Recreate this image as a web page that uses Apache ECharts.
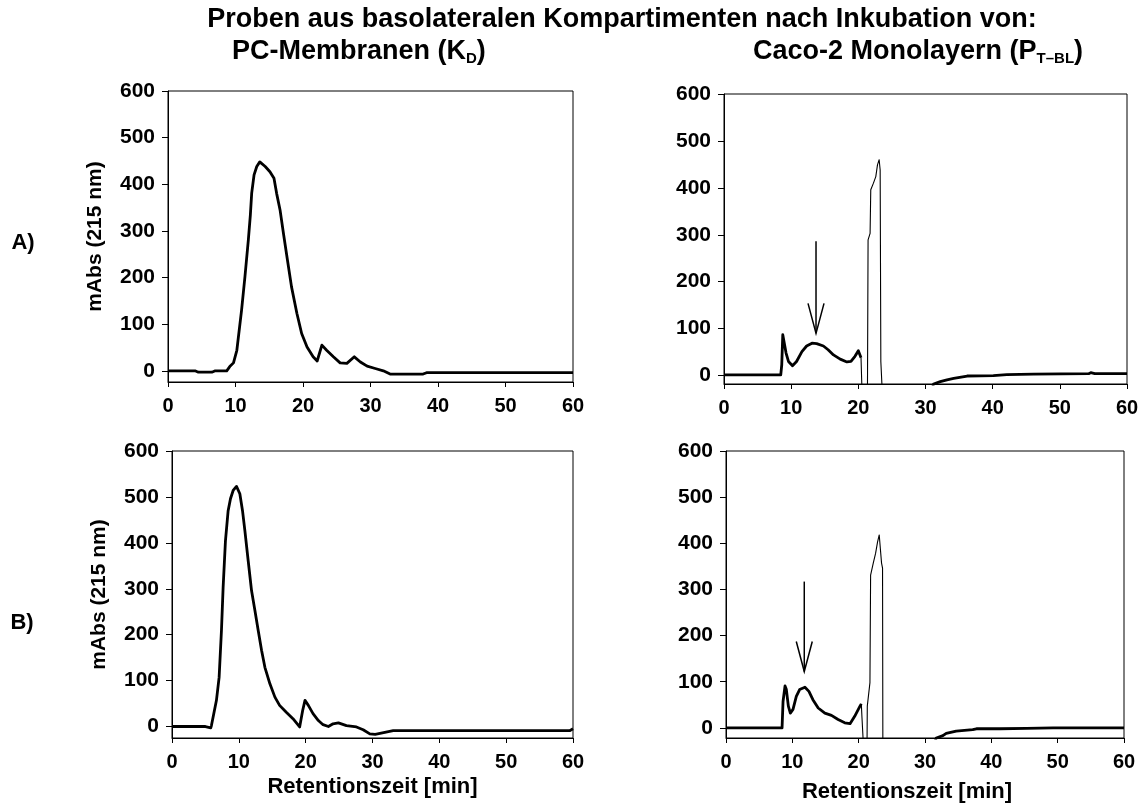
<!DOCTYPE html>
<html>
<head>
<meta charset="utf-8">
<script src="https://cdn.jsdelivr.net/npm/echarts@6/dist/echarts.min.js"></script>
<style>
  html, body { margin: 0; padding: 0; background: #fff; }
  #chart { width: 1147px; height: 812px; }
</style>
</head>
<body>
<div id="chart"></div>
<script>
// Axis ticks
const timeTicks = [0, 10, 20, 30, 40, 50, 60];
const absTicks = [0, 100, 200, 300, 400, 500, 600];

// Chromatograms [Retentionszeit (min), mAbs]
// A) PC-Membranen
const pcMembranA = [
  [0, 0], [4, 0], [4.5, -3], [6.5, -3], [7, 0], [8.7, 0], [9.15, 9], [9.7, 17], [10.2, 44],
  [10.9, 130], [11.4, 202], [11.9, 280], [12.2, 334], [12.4, 381], [12.75, 420], [13.15, 438],
  [13.6, 448], [14.4, 438], [15.1, 427], [15.7, 413], [16.1, 380], [16.6, 345], [17.1, 295],
  [17.7, 237], [18.3, 180], [19.1, 123], [19.8, 80], [20.6, 51], [21.5, 30], [22.1, 21],
  [22.8, 55], [23.5, 44], [24.5, 30], [25.5, 17], [26.5, 16], [27.6, 30], [28.5, 19],
  [29.5, 10], [30.7, 5], [31.9, 0], [32.9, -7], [37.8, -7], [38.3, -4], [60, -4]
];
// B) PC-Membranen
const pcMembranB = [
  [0, 0], [5, 0], [5.2, -3], [5.8, -3], [5.9, 2], [6.25, 28], [6.65, 57], [7.05, 107],
  [7.4, 209], [7.65, 303], [8.0, 405], [8.4, 470], [8.75, 496], [9.15, 514], [9.65, 523],
  [10.15, 507], [10.55, 470], [10.9, 427], [11.4, 361], [11.9, 296], [12.4, 253], [12.9, 209],
  [13.4, 166], [13.9, 129], [14.65, 93], [15.4, 64], [16.1, 46], [17.1, 31], [18.1, 17],
  [19.1, -1], [19.55, 35], [19.9, 57], [20.4, 46], [21.1, 28], [21.9, 13], [22.6, 4],
  [23.4, 0], [24.1, 6], [24.9, 8], [26.1, 2], [27.6, -1], [28.6, -7], [29.6, -16], [30.4, -17],
  [30.6, -14], [33.1, -9], [59.5, -9], [60, -5]
];
// A) Caco-2 Monolayer: early fractions, solvent peak, late baseline
const caco2A = [
  [0, 1.5], [8.45, 1.5], [8.6, 23], [8.75, 87], [9.0, 85], [9.24, 48], [9.6, 30], [10.2, 21],
  [10.8, 30], [11.6, 51], [12.3, 63], [13.1, 69], [13.8, 68], [14.8, 63], [15.5, 55],
  [16.3, 44], [17.3, 35], [18.3, 29], [18.9, 30], [19.5, 41], [20.0, 53], [20.26, 49], [20.4, 38]
];
const caco2A_peak = [
  [20.4, 38], [20.6, -60], [21.35, -60], [21.45, 289], [21.75, 303], [21.85, 396], [22.25, 410],
  [22.6, 424], [22.85, 449], [23.1, 460], [23.25, 438], [23.35, 30], [23.65, -60]
];
const caco2A_tail = [
  [30.8, -40], [31.2, -18], [32.2, -13], [33.2, -9], [34.2, -6], [36.2, -1], [40.1, 0],
  [42.1, 2], [46.1, 3], [54.3, 4], [54.6, 6], [55.2, 4], [60, 4]
];
// B) Caco-2 Monolayer
const caco2B = [
  [0, 0], [8.45, 0], [8.6, 57], [8.9, 91], [9.1, 83], [9.4, 47], [9.7, 32], [10.1, 40],
  [10.6, 68], [11.1, 83], [11.9, 88], [12.5, 79], [13.1, 61], [13.9, 43], [14.9, 32],
  [15.9, 27], [16.9, 18], [17.9, 11], [18.7, 9], [19.4, 25], [20.2, 47], [20.4, 52]
];
const caco2B_peak = [
  [20.4, 52], [20.5, 22], [20.8, -60], [21.25, -60], [21.3, 47], [21.7, 98], [21.8, 331],
  [22.2, 357], [22.55, 378], [22.85, 403], [23.1, 418], [23.3, 414], [23.45, 357], [23.6, 346],
  [23.65, -60]
];
const caco2B_tail = [
  [31.3, -40], [31.7, -22], [32.7, -17], [33.2, -12], [34.7, -7], [37.2, -4], [37.75, -2],
  [41.3, -2], [45.3, -1], [49.3, 0], [60, 0]
];

// Arrows marking the analyte fraction: [time, shaft top, tip]
const arrowA = [[13.7, 286, 90]];
const arrowB = [[11.8, 317, 122]];

const FONT = '"Liberation Sans", Arial, Helvetica, sans-serif';
const labelFont = { color: '#000', fontSize: 21, fontWeight: 'bold', fontFamily: FONT };
const tickFontX = { color: '#000', fontSize: 20, fontWeight: 'bold', fontFamily: FONT };

const panels = [
  { grid: { left: 168, top: 91, width: 405, height: 291 }, yMin: -24, yName: 'mAbs (215 nm)', xName: '' },
  { grid: { left: 724, top: 94, width: 403, height: 290 }, yMin: -18, yName: '', xName: '' },
  { grid: { left: 172, top: 451, width: 401, height: 287 }, yMin: -25, yName: 'mAbs (215 nm)', xName: 'Retentionszeit [min]', xGap: 38, xPad: 0 },
  { grid: { left: 726, top: 451, width: 398, height: 287 }, yMin: -22, yName: '', xName: 'Retentionszeit [min]', xGap: 43, xPad: 36 }
];

const grid = panels.map(p => Object.assign({ show: true, borderColor: '#000', borderWidth: 1, backgroundColor: 'transparent' }, p.grid));

const xAxis = panels.map((p, i) => ({
  gridIndex: i, type: 'value', min: 0, max: 60,
  axisLine: { show: true, onZero: false, lineStyle: { color: '#000', width: 1 } },
  axisTick: { show: true, length: 5, customValues: timeTicks, lineStyle: { color: '#000' } },
  axisLabel: Object.assign({ margin: 14, customValues: timeTicks, showMinLabel: true, showMaxLabel: true }, tickFontX),
  splitLine: { show: false },
  name: p.xName, nameLocation: 'middle', nameGap: p.xGap || 0,
  nameTextStyle: Object.assign({ padding: [0, p.xPad || 0, 0, 0] }, labelFont, { fontSize: 22 })
}));

const yAxis = panels.map((p, i) => ({
  gridIndex: i, type: 'value', min: p.yMin, max: 600,
  axisLine: { show: true, onZero: false, lineStyle: { color: '#000', width: 1 } },
  axisTick: { show: true, length: 6, customValues: absTicks, lineStyle: { color: '#000' } },
  axisLabel: Object.assign({ margin: 13, customValues: absTicks, showMinLabel: true, showMaxLabel: true }, labelFont),
  splitLine: { show: false },
  name: p.yName, nameLocation: 'middle', nameGap: 62, nameRotate: 90,
  nameTextStyle: labelFont
}));

function trace(data, idx, width) {
  return {
    type: 'line', data: data, xAxisIndex: idx, yAxisIndex: idx,
    showSymbol: false, symbol: 'none', clip: true, silent: true,
    lineStyle: { color: '#000', width: width, join: 'round' }
  };
}

function drawArrow(params, api) {
  const x = api.value(0);
  const top = api.coord([x, api.value(1)]);
  const tip = api.coord([x, api.value(2)]);
  return {
    type: 'group',
    children: [
      { type: 'line', shape: { x1: top[0], y1: top[1], x2: tip[0], y2: tip[1] }, style: { stroke: '#000', lineWidth: 1.5 } },
      { type: 'polyline', shape: { points: [[tip[0] - 8, tip[1] - 30], [tip[0], tip[1]], [tip[0] + 8, tip[1] - 30]] }, style: { stroke: '#000', lineWidth: 1.5, fill: null } }
    ]
  };
}

function arrow(data, idx) {
  return {
    type: 'custom', data: data, xAxisIndex: idx, yAxisIndex: idx,
    encode: { x: 0, y: [1, 2] }, renderItem: drawArrow, silent: true, clip: false
  };
}

const series = [
  trace(pcMembranA, 0, 2.8),
  trace(caco2A, 1, 2.8), trace(caco2A_peak, 1, 1.1), trace(caco2A_tail, 1, 2.8),
  trace(pcMembranB, 2, 2.8),
  trace(caco2B, 3, 2.8), trace(caco2B_peak, 3, 1.1), trace(caco2B_tail, 3, 2.8),
  arrow(arrowA, 1), arrow(arrowB, 3)
];

const headFont = 'bold 27px ' + FONT;
const subRich = { sub: { fontSize: 15, fontWeight: 'bold', fontFamily: FONT, padding: [14, 0, 0, 0] } };

const graphic = [
  { type: 'text', x: 622, y: 20, style: { text: 'Proben aus basolateralen Kompartimenten nach Inkubation von:', font: headFont, fill: '#000', align: 'center', verticalAlign: 'middle' } },
  { type: 'text', x: 232, y: 52, style: { text: 'PC-Membranen (K{sub|D})', font: headFont, fill: '#000', align: 'left', verticalAlign: 'middle', rich: subRich } },
  { type: 'text', x: 753, y: 52, style: { text: 'Caco-2 Monolayern (P{sub|T\u2013BL})', font: headFont, fill: '#000', align: 'left', verticalAlign: 'middle', rich: subRich } },
  { type: 'text', x: 23, y: 243, style: { text: 'A)', font: 'bold 22px ' + FONT, fill: '#000', align: 'center', verticalAlign: 'middle' } },
  { type: 'text', x: 22, y: 623, style: { text: 'B)', font: 'bold 22px ' + FONT, fill: '#000', align: 'center', verticalAlign: 'middle' } }
];

const chart = echarts.init(document.getElementById('chart'), null, { renderer: 'canvas' });
chart.setOption({
  animation: false,
  backgroundColor: '#fff',
  grid: grid,
  xAxis: xAxis,
  yAxis: yAxis,
  series: series,
  graphic: graphic
});
</script>
</body>
</html>
